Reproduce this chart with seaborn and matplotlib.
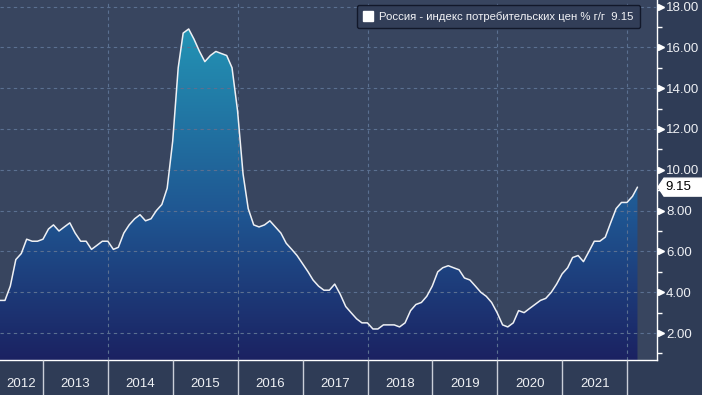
import numpy as np
import pandas as pd
import matplotlib
matplotlib.use("Agg")
import matplotlib.pyplot as plt
import matplotlib.dates as mdates
import matplotlib.ticker as mticker
import matplotlib.transforms as mtransforms
from matplotlib.colors import LinearSegmentedColormap
from matplotlib.patches import Patch, Polygon
import seaborn as sns

# ---------------- data ----------------
series_name = "Россия - индекс потребительских цен % г/г"
first_month_end = "2012-04-30"
cpi = [
    3.6, 3.6, 4.3, 5.6, 5.9, 6.6, 6.5, 6.5, 6.6,                      # 2012 Apr-Dec
    7.1, 7.3, 7.0, 7.2, 7.4, 6.9, 6.5, 6.5, 6.1, 6.3, 6.5, 6.5,       # 2013
    6.1, 6.2, 6.9, 7.3, 7.6, 7.8, 7.5, 7.6, 8.0, 8.3, 9.1, 11.4,      # 2014
    15.0, 16.7, 16.9, 16.4, 15.8, 15.3, 15.6, 15.8, 15.7, 15.6, 15.0, 12.9,  # 2015
    9.8, 8.1, 7.3, 7.2, 7.3, 7.5, 7.2, 6.9, 6.4, 6.1, 5.8, 5.4,       # 2016
    5.0, 4.6, 4.3, 4.1, 4.1, 4.4, 3.9, 3.3, 3.0, 2.7, 2.5, 2.5,       # 2017
    2.2, 2.2, 2.4, 2.4, 2.4, 2.3, 2.5, 3.1, 3.4, 3.5, 3.8, 4.3,       # 2018
    5.0, 5.2, 5.3, 5.2, 5.1, 4.7, 4.6, 4.3, 4.0, 3.8, 3.5, 3.0,       # 2019
    2.4, 2.3, 2.5, 3.1, 3.0, 3.2, 3.4, 3.6, 3.7, 4.0, 4.4, 4.9,       # 2020
    5.2, 5.7, 5.8, 5.5, 6.0, 6.5, 6.5, 6.7, 7.4, 8.1, 8.4, 8.4,       # 2021
    8.7, 9.15,                                                        # 2022 Jan-Feb
]
year_labels = ["2012", "2013", "2014", "2015", "2016", "2017", "2018", "2019", "2020", "2021"]
y_ticks = [2, 4, 6, 8, 10, 12, 14, 16, 18]
y_minor = [1, 3, 5, 7, 9, 11, 13, 15, 17]
grid_years = [2014, 2016, 2018, 2020, 2022]

dates = pd.date_range(first_month_end, periods=len(cpi), freq="ME")
df = pd.DataFrame({"date": dates, "cpi": cpi})

# ---------------- style ----------------
BG_FIG = "#2f3c56"
BG_AX = "#38455f"
GRID = "#5b7091"
sns.set_theme(style="dark", rc={"figure.facecolor": BG_FIG, "axes.facecolor": BG_AX})
plt.rcParams["font.family"] = ["Liberation Sans", "DejaVu Sans"]

fig = plt.figure(figsize=(7.02, 3.95), dpi=100)
ax = fig.add_axes([0.0, 35 / 395, 657 / 702, 360 / 395])
ax.set_facecolor(BG_AX)

x_lo, x_hi = pd.Timestamp("2012-05-03"), pd.Timestamp("2022-06-18")
y_lo, y_hi = 0.68, 18.32

# gradient fill under the curve
poly = ax.fill_between(df["date"], df["cpi"], y_lo, color="none", lw=0)
cmap = LinearSegmentedColormap.from_list(
    "cpi", [(0.0, "#1b2262"), (0.4, "#1f5591"), (1.0, "#249dba")])
grad = np.linspace(0, 1, 256).reshape(-1, 1)
xn0, xn1 = mdates.date2num(x_lo), mdates.date2num(x_hi)
im = ax.imshow(grad, extent=[xn0, xn1, y_lo, y_hi], origin="lower",
               aspect="auto", cmap=cmap, zorder=1)
im.set_clip_path(poly.get_paths()[0], transform=ax.transData)

sns.lineplot(data=df, x="date", y="cpi", ax=ax, color="#eef0f4",
             lw=1.1, zorder=3, legend=False)

ax.set_xlim(x_lo, x_hi)
ax.set_ylim(y_lo, y_hi)
ax.set_xlabel("")
ax.set_ylabel("")

# grid
ax.set_axisbelow(False)
ax.yaxis.set_major_locator(mticker.FixedLocator(y_ticks))
ax.yaxis.set_minor_locator(mticker.FixedLocator(y_minor))
ax.grid(False)
ax.grid(axis="y", which="major", color=GRID, lw=0.8, ls=(0, (3, 3)), zorder=2)
for gy in grid_years:
    ax.axvline(pd.Timestamp(f"{gy}-01-01"), color=GRID, lw=0.8,
               ls=(0, (3, 3)), zorder=2)

# spines
for s in ["left", "top"]:
    ax.spines[s].set_visible(False)
for s in ["right", "bottom"]:
    ax.spines[s].set_visible(True)
    ax.spines[s].set_color("white")
    ax.spines[s].set_linewidth(1.0)

# y axis on right
ax.yaxis.tick_right()
ax.yaxis.set_major_formatter(mticker.FormatStrFormatter("%.2f"))
ax.tick_params(axis="y", which="major", right=True, left=False, length=0,
               pad=6.5, labelsize=9.5, labelcolor="#eef0f4")
ax.tick_params(axis="y", which="minor", right=True, left=False, length=3.6,
               width=1, color="white", direction="out")
ytr = mtransforms.blended_transform_factory(ax.transAxes, ax.transData)
ax.plot([1.0068] * len(y_ticks), y_ticks, ls="none", marker=">", ms=5,
        color="white", transform=ytr, clip_on=False, zorder=5)

# x axis: year separators (major) and centred labels (minor)
ax.xaxis.set_major_locator(mdates.YearLocator())
ax.xaxis.set_major_formatter(mticker.NullFormatter())
centers = []
for lab in year_labels:
    a = max(pd.Timestamp(f"{lab}-01-01"), x_lo)
    b = min(pd.Timestamp(f"{int(lab) + 1}-01-01"), x_hi)
    centers.append(mdates.date2num(a) + (mdates.date2num(b) - mdates.date2num(a)) / 2)
ax.xaxis.set_minor_locator(mticker.FixedLocator(centers))
ax.xaxis.set_minor_formatter(mticker.FixedFormatter(year_labels))
ax.tick_params(axis="x", which="major", bottom=True, length=26, width=1,
               color="#c9ced8", direction="out")
ax.tick_params(axis="x", which="minor", bottom=True, length=0, pad=13,
               labelsize=9.5, labelcolor="#eef0f4")

# last value tag on the right axis
last = cpi[-1]
h = 0.44
tag = Polygon([(1.0015, last), (1.0107, last + h), (1.07, last + h),
               (1.07, last - h), (1.0107, last - h)], closed=True,
              transform=ytr, clip_on=False, facecolor="white",
              edgecolor="white", zorder=6)
ax.add_patch(tag)
ax.text(1.0125, last, f"{last:.2f}", transform=ytr, ha="left", va="center",
        fontsize=9.5, color="black", zorder=7, clip_on=False)

# legend
handle = Patch(facecolor="white", edgecolor="white")
leg = ax.legend([handle], [f"{series_name}  {last:.2f}"], loc="upper right",
                bbox_to_anchor=(640 / 657, 1 - 5 / 360), fontsize=8.2,
                handlelength=0.9, handleheight=0.9, handletextpad=0.55,
                borderpad=0.55, borderaxespad=0, frameon=True, fancybox=True)
fr = leg.get_frame()
fr.set_facecolor("#323e58")
fr.set_edgecolor("#12182a")
fr.set_alpha(1)
fr.set_linewidth(1.0)
for t in leg.get_texts():
    t.set_color("#f2f3f6")

fig.savefig("out.png", dpi=100, facecolor=BG_FIG)
